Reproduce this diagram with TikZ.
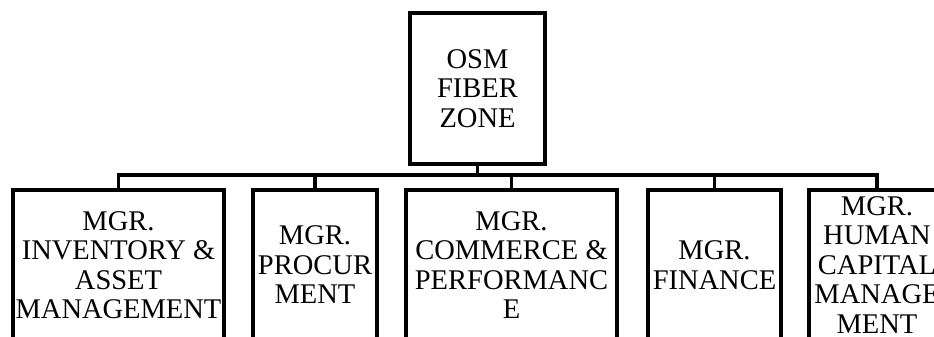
\documentclass[tikz,border=0pt]{standalone}
\usepackage{fontspec}
\setmainfont{Liberation Serif}
\begin{document}
\begin{tikzpicture}[x=1pt,y=-1pt,
    unit/.style={draw=black,line width=4pt,fill=white,inner sep=0pt,
      align=center,font=\fontsize{28.5}{29.5}\selectfont,minimum height=150pt},
    link/.style={draw=black,line width=3.5pt}]
  \useasboundingbox (0,0) rectangle (934,337);
  \clip (0,0) rectangle (934,337);

  % head of the zone
  \node[unit,minimum width=135pt] (osm) at (477.5,88.5) {OSM\\FIBER\\ZONE};

  % managers
  \node[unit,minimum width=211pt] (inv)  at (118.5,265) {MGR.\\INVENTORY \&\\ASSET\\MANAGEMENT};
  \node[unit,minimum width=124pt] (proc) at (315,265)   {MGR.\\PROCUR\\MENT};
  \node[unit,minimum width=211pt] (comm) at (511.5,265) {MGR.\\COMMERCE \&\\PERFORMANC\\E};
  \node[unit,minimum width=133pt] (fin)  at (714.5,265) {MGR.\\FINANCE};
  \node[unit,minimum width=136pt] (hcm)  at (877,265)   {MGR.\\HUMAN\\CAPITAL\\MANAGE\\MENT};

  \coordinate (bus) at (477.5,175);
  \draw[link] (osm.south) -- (bus);
  \foreach \m in {inv,proc,comm,fin,hcm}
    \draw[link] (bus) -| (\m.north);
\end{tikzpicture}
\end{document}
